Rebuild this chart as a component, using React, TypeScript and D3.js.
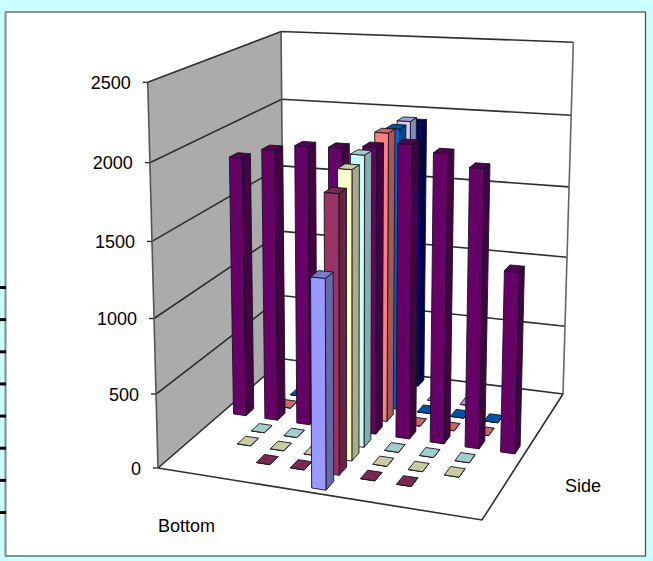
import React from "react";
import * as d3 from "d3";

const WIDTH = 653;
const HEIGHT = 561;

const valueTicks = [0, 500, 1000, 1500, 2000, 2500];
const bottomLabel = "Bottom";
const sideLabel = "Side";

// Series run front to back, one row of nine columns each; null leaves the cell empty.
const seriesFaces = ["#9999FF", "#993366", "#FFFFCC", "#CCFFFF", "#660066", "#FF8080", "#0066CC", "#CCCCFF", "#000080"];

const row0 = [null, null, null, null, 1355, null, null, null, null];
const row1 = [null, null, 0, 0, 1820, 0, 0, null, null];
const row2 = [null, 0, 0, 0, 1915, 0, 0, 0, null];
const row3 = [null, 0, 0, 0, 1955, 0, 0, 0, null];
const row4 = [1822, 1890, 1930, 1935, 1955, 1990, 1945, 1865, 1215];
const row5 = [null, 0, 0, 0, 2000, 0, 0, 0, null];
const row6 = [null, 0, 0, 0, 1980, 0, 0, 0, null];
const row7 = [null, null, 0, 0, 1985, 0, 0, null, null];
const row8 = [null, null, null, null, 1925, null, null, null, null];
const rows = [row0, row1, row2, row3, row4, row5, row6, row7, row8];

// Camera anchors for the plot box: floor corners and wall tops.
type P = [number, number];
const floorFL: P = [158, 468];
const floorFR: P = [482, 520];
const floorBR: P = [563, 394];
const floorBL: P = [284, 359];
const topFL: P = [147, 81];
const topBL: P = [282, 29];
const topBR: P = [573, 46];

function solve(A: number[][], b: number[]): number[] {
  const n = b.length;
  const M = A.map((r, i) => [...r, b[i]]);
  for (let i = 0; i < n; i++) {
    let p = i;
    for (let k = i + 1; k < n; k++) if (Math.abs(M[k][i]) > Math.abs(M[p][i])) p = k;
    [M[i], M[p]] = [M[p], M[i]];
    for (let k = 0; k < n; k++) {
      if (k === i) continue;
      const f = M[k][i] / M[i][i];
      for (let j = i; j <= n; j++) M[k][j] -= f * M[i][j];
    }
  }
  return M.map((r, i) => r[n] / r[i]);
}

// Projection (u, v, h) -> screen: floor homography plus a least-squares height column.
function buildCamera() {
  const floor: [number, number, P][] = [
    [0, 0, floorFL],
    [1, 0, floorFR],
    [1, 1, floorBR],
    [0, 1, floorBL],
  ];
  const A: number[][] = [];
  const b: number[] = [];
  for (const [u, v, [x, y]] of floor) {
    A.push([u, v, 1, 0, 0, 0, -u * x, -v * x]);
    b.push(x);
    A.push([0, 0, 0, u, v, 1, -u * y, -v * y]);
    b.push(y);
  }
  const [a, c, d, e, f, g, i, j] = solve(A, b);
  const tops: [number, number, P][] = [
    [0, 0, topFL],
    [0, 1, topBL],
    [1, 1, topBR],
  ];
  const Q: number[][] = [];
  const r: number[] = [];
  for (const [u, v, [x, y]] of tops) {
    Q.push([1, 0, -x]);
    r.push(x * (i * u + j * v + 1) - (a * u + c * v + d));
    Q.push([0, 1, -y]);
    r.push(y * (i * u + j * v + 1) - (e * u + f * v + g));
  }
  const N = [0, 1, 2].map((p) => [0, 1, 2].map((q) => d3.sum(Q, (row) => row[p] * row[q])));
  const t = [0, 1, 2].map((p) => d3.sum(Q, (row, k) => row[p] * r[k]));
  const [hx, hy, hw] = solve(N, t);
  return (u: number, v: number, h: number): P => {
    const w = i * u + j * v + hw * h + 1;
    return [(a * u + c * v + hx * h + d) / w, (e * u + f * v + hy * h + g) / w];
  };
}

const project = buildCamera();
const valueScale = d3.scaleLinear().domain([0, 2500]).range([0, 1]);
const columnScale = d3.scaleBand<number>().domain(d3.range(9)).range([0, 1]).paddingInner(0.6).paddingOuter(0.3).align(0.6);
const rowScale = d3.scaleBand<number>().domain(d3.range(9)).range([0, 1]).paddingInner(0.42).paddingOuter(0.27);
const linePath = d3.line();

const poly = (pts: P[]) => linePath(pts) + "Z";

function shade(color: string, k: number) {
  const c = d3.rgb(color);
  return d3.rgb(c.r * k, c.g * k, c.b * k).formatHex();
}

function Bar({ col, row, value }: { col: number; row: number; value: number }) {
  const u0 = columnScale(col)!;
  const u1 = u0 + columnScale.bandwidth();
  const v0 = rowScale(row)!;
  const v1 = v0 + rowScale.bandwidth();
  const h = valueScale(value);
  const face = seriesFaces[row];
  const outline = { stroke: "#14141e", strokeWidth: 0.9, strokeLinejoin: "round" as const };
  return (
    <g>
      <path d={poly([project(u1, v0, 0), project(u1, v1, 0), project(u1, v1, h), project(u1, v0, h)])} fill={shade(face, 0.67)} {...outline} />
      <path d={poly([project(u0, v0, 0), project(u1, v0, 0), project(u1, v0, h), project(u0, v0, h)])} fill={face} {...outline} />
      <path d={poly([project(u0, v0, h), project(u1, v0, h), project(u1, v1, h), project(u0, v1, h)])} fill={shade(face, 0.8)} {...outline} />
    </g>
  );
}

export default function App() {
  const ticks = valueTicks.map(valueScale);
  const gridStyle = { stroke: "#2e2e2e", strokeWidth: 1.6, fill: "none" };
  const cells = rows.flatMap((values, row) => values.map((value, col) => ({ row, col, value })));
  const ordered = cells
    .filter((c) => c.value !== null)
    .sort((a, b) => b.row - a.row || a.col - b.col) as { row: number; col: number; value: number }[];

  return (
    <svg width={WIDTH} height={HEIGHT} style={{ position: "absolute", left: 0, top: 0 }}>
      <rect width={WIDTH} height={HEIGHT} fill="#CCFFFF" />
      <rect x={5.5} y={12} width={640} height={544} fill="#fff" stroke="#3c5050" strokeWidth={1.2} />
      <line x1={5.5} x2={5.5} y1={12} y2={556} stroke="#7d9696" strokeWidth={2} />
      {d3.range(8).map((i) => (
        <rect key={i} x={0} y={d3.scaleLinear().domain([0, 7]).range([286, 511])(i)} width={6} height={3} fill="#000" />
      ))}

      <path d={poly([project(0, 0, 0), project(0, 1, 0), project(0, 1, 1), project(0, 0, 1)])} fill="#ABABAB" />
      <path d={poly([project(0, 0, 0), project(1, 0, 0), project(1, 1, 0), project(0, 1, 0)])} fill="#fff" />

      {ticks.map((t, i) => (
        <g key={valueTicks[i]}>
          <path d={linePath([project(0, 0, t), project(0, 1, t), project(1, 1, t)])!} {...gridStyle} />
          <line
            x1={project(0, 0, t)[0] - 5}
            x2={project(0, 0, t)[0]}
            y1={project(0, 0, t)[1]}
            y2={project(0, 0, t)[1]}
            stroke="#1e1e1e"
            strokeWidth={1.3}
          />
          <text
            x={project(0, 0, t)[0] - 17}
            y={project(0, 0, t)[1] + 6.5}
            textAnchor="end"
            fontFamily="Liberation Sans"
            fontSize={18}
            fill="#000"
          >
            {valueTicks[i]}
          </text>
        </g>
      ))}
      <path d={linePath([project(0, 0, 0), project(0, 0, 1)])!} {...gridStyle} stroke="#555" />
      <path d={linePath([project(0, 1, 0), project(0, 1, 1)])!} {...gridStyle} stroke="#555" />
      <path d={linePath([project(1, 1, 0), project(1, 1, 1)])!} {...gridStyle} stroke="#666" />
      <path d={linePath([project(0, 0, 0), project(1, 0, 0), project(1, 1, 0)])!} {...gridStyle} />

      {ordered.map((c) => (
        <Bar key={`${c.row}-${c.col}`} col={c.col} row={c.row} value={c.value} />
      ))}

      <text x={158} y={532} fontFamily="Liberation Sans" fontSize={18} fill="#000">
        {bottomLabel}
      </text>
      <text x={565} y={492} fontFamily="Liberation Sans" fontSize={18} fill="#000">
        {sideLabel}
      </text>
    </svg>
  );
}
